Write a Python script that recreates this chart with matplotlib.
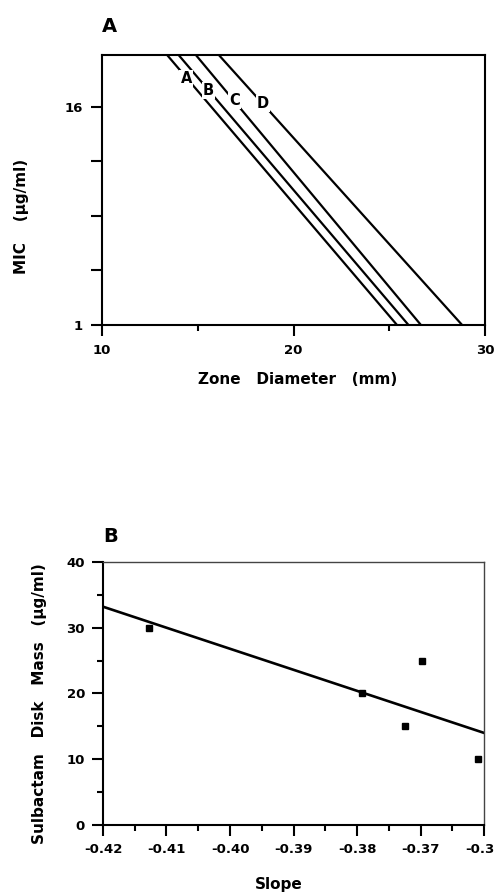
import matplotlib
matplotlib.use("Agg")

import matplotlib.pyplot as plt
from matplotlib.ticker import FixedLocator, NullFormatter

# Panel A: MIC vs zone diameter regression lines (endpoints read at MIC = 1 and at top of axis)
LINE_NAMES = ["A", "B", "C", "D"]
ZONE_AT_MIC1 = [25.4, 26.0, 26.65, 28.8]
ZONE_AT_TOP = [13.4, 14.0, 14.9, 16.1]
MIC_LOW = 1
MIC_TOP = 30.9
LABEL_ZONE = [14.4, 15.55, 16.9, 18.4]
LABEL_MIC = [22.8, 19.6, 17.4, 16.7]

# Panel B: sulbactam disk mass vs slope
SLOPE = [-0.4127, -0.3792, -0.3725, -0.3697, -0.3609]
DISK_MASS = [30, 20, 15, 25, 10]
FIT_X = [-0.42, -0.36]
FIT_Y = [33.2, 14.0]

FONT = "DejaVu Sans"
plt.rcParams.update({
    "font.family": FONT,
    "font.weight": "bold",
    "font.size": 9,
    "axes.linewidth": 1.5,
})

fig = plt.figure(figsize=(4.95, 8.94), dpi=100, facecolor="white")

# ---- Panel A ----
ax1 = fig.add_axes([0.206, 0.6365, 0.774, 0.302])
for name, z1, zt in zip(LINE_NAMES, ZONE_AT_MIC1, ZONE_AT_TOP):
    ax1.plot([zt, z1], [MIC_TOP, MIC_LOW], color="black", lw=1.6,
             solid_capstyle="butt", zorder=2)
for name, zx, my in zip(LINE_NAMES, LABEL_ZONE, LABEL_MIC):
    ax1.text(zx, my, name, ha="center", va="center", fontsize=10.5,
             fontweight="bold", zorder=3,
             bbox=dict(facecolor="white", edgecolor="none", pad=0.8))

ax1.set_yscale("log", base=2)
ax1.set_xlim(10, 30)
ax1.set_ylim(MIC_LOW, MIC_TOP)
ax1.yaxis.set_major_locator(FixedLocator([1, 2, 4, 8, 16]))
ax1.yaxis.set_minor_locator(FixedLocator([]))
ax1.set_yticklabels(["1", "", "", "", "16"])
ax1.xaxis.set_major_locator(FixedLocator([10, 20, 30]))
ax1.xaxis.set_minor_locator(FixedLocator([15, 25]))
ax1.xaxis.set_minor_formatter(NullFormatter())
ax1.tick_params(axis="both", which="major", direction="out", length=8,
                width=1.5, labelsize=9.5, pad=6)
ax1.tick_params(axis="x", which="minor", direction="out", length=4, width=1.5)
for lab in ax1.get_xticklabels() + ax1.get_yticklabels():
    lab.set_fontweight("bold")

# ---- Panel B ----
ax2 = fig.add_axes([0.208, 0.0772, 0.770, 0.2942])
ax2.plot(FIT_X, FIT_Y, color="black", lw=1.9, zorder=2)
ax2.plot(SLOPE, DISK_MASS, linestyle="none", marker="s", markersize=4,
         color="black", zorder=3)
ax2.set_xlim(-0.42, -0.36)
ax2.set_ylim(0, 40)
ax2.xaxis.set_major_locator(FixedLocator([-0.42, -0.41, -0.40, -0.39, -0.38, -0.37, -0.36]))
ax2.xaxis.set_minor_locator(FixedLocator([-0.415, -0.405, -0.395, -0.385, -0.375, -0.365]))
ax2.set_xticklabels(["-0.42", "-0.41", "-0.40", "-0.39", "-0.38", "-0.37", "-0.36"])
ax2.yaxis.set_major_locator(FixedLocator([0, 10, 20, 30, 40]))
ax2.yaxis.set_minor_locator(FixedLocator([5, 15, 25, 35]))
ax2.tick_params(axis="both", which="major", direction="out", length=8,
                width=1.5, labelsize=9.5, pad=5)
ax2.tick_params(axis="both", which="minor", direction="out", length=4, width=1.5)
for lab in ax2.get_xticklabels() + ax2.get_yticklabels():
    lab.set_fontweight("bold")
for side in ["top", "right"]:
    ax2.spines[side].set_linewidth(1.0)
    ax2.spines[side].set_color("#444444")

# ---- Text ----
fig.text(0.206, 0.970, "A", ha="left", va="center", fontsize=14, fontweight="heavy")
fig.text(0.208, 0.4004, "B", ha="left", va="center", fontsize=14, fontweight="heavy")
fig.text(0.0444, 0.758, "MIC    (\u00b5g/ml)", rotation=90, ha="center", va="center",
         fontsize=11, fontweight="bold")
fig.text(0.601, 0.575, "Zone   Diameter   (mm)", ha="center", va="center",
         fontsize=11, fontweight="bold")
fig.text(0.079, 0.2125, "Sulbactam   Disk   Mass   (\u00b5g/ml)", rotation=90,
         ha="center", va="center", fontsize=11, fontweight="bold")
fig.text(0.564, 0.0105, "Slope", ha="center", va="center", fontsize=11,
         fontweight="bold")

fig.savefig("out.png", dpi=100, facecolor="white")
